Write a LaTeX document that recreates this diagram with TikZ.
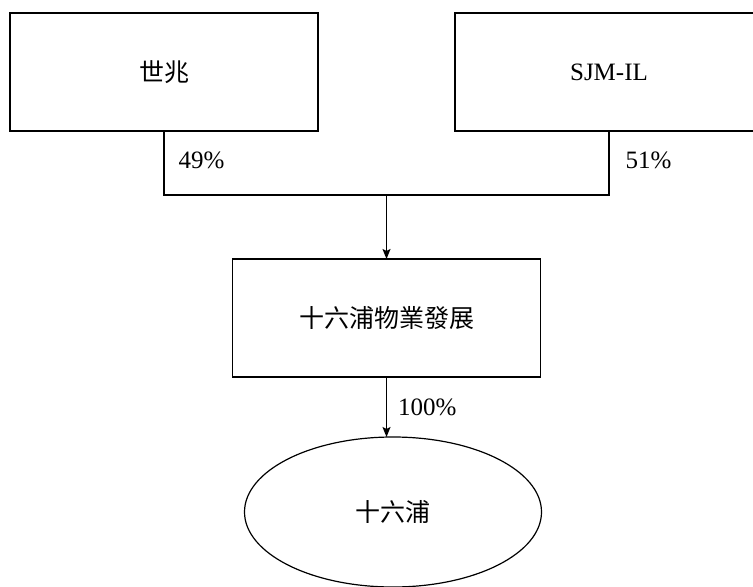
\documentclass[tikz,border=0pt]{standalone}
\usepackage{fontspec}
\setmainfont{Liberation Serif}
\newfontfamily\cjk{Noto Sans CJK TC}
\usepackage{tikz}
\usetikzlibrary{arrows.meta,calc,positioning,shapes.geometric}
\tikzset{
	own box/.style={draw,line width=0.6pt,minimum width=154pt,minimum height=59pt,outer sep=0pt,font=\cjk\fontsize{12.5}{15}\selectfont},
	own ell/.style={draw,ellipse,line width=0.6pt,minimum width=148.5pt,minimum height=75pt,outer sep=0pt,font=\cjk\fontsize{12.5}{15}\selectfont},
	pct/.style={font=\fontsize{12.5}{15}\selectfont,inner sep=0pt,anchor=west},
	ar/.style={-{Stealth[length=5pt,width=4pt,inset=1pt]}}
}
\begin{document}
\begin{tikzpicture}[line width=0.6pt,node distance=32pt and 68.5pt]
   \useasboundingbox (0,0) rectangle (376.5pt,-293.5pt);
   \node [own box] (shizhao) at (82pt,-36pt) {世兆};
   \node [own box, right=of shizhao, font=\fontsize{12.5}{15}\selectfont] (sjmil) {SJM-IL};
   \coordinate [below=of shizhao.south] (jl);
   \coordinate [below=of sjmil.south] (jr);
   \coordinate (jm) at ($(jl)!.5!(jr)$);
   \node [own box, below=of jm] (wuye) {十六浦物業發展};
   \node [own ell, below=30pt of wuye, xshift=3.25pt] (slp) {十六浦};
   \draw (shizhao.south) -- (jl) -- (jr) -- (sjmil.south);
   \draw [ar] (jm) -- (wuye.north);
   \draw [ar] (wuye.south) -- (wuye.south |- slp.north);
   \node [pct] (p49) at ($(shizhao.south)+(7pt,-14.5pt)$) {49\%};
   \node [pct] (p51) at ($(sjmil.south)+(8pt,-14.5pt)$) {51\%};
   \node [pct] (p100) at ($(wuye.south)+(5.5pt,-15pt)$) {100\%};
\end{tikzpicture}
\end{document}
